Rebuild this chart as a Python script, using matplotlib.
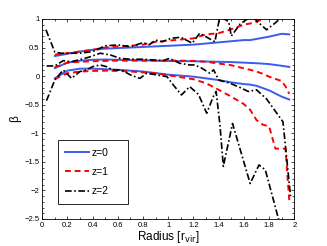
import matplotlib
matplotlib.use("Agg")
import matplotlib.pyplot as plt
from matplotlib.ticker import MultipleLocator

plt.rcParams['font.family'] = ['Liberation Sans', 'DejaVu Sans']

# z=0 (three curves)
r0 = [0.1, 0.2, 0.3, 0.4, 0.5, 0.6, 0.8, 1.0, 1.2, 1.4, 1.5, 1.6, 1.65, 1.7, 1.8, 1.9, 1.96]
b0_hi = [0.35, 0.39, 0.43, 0.46, 0.48, 0.49, 0.51, 0.53, 0.55, 0.59, 0.61, 0.63, 0.63, 0.65, 0.69, 0.74, 0.73]
b0_mid = [0.14, 0.235, 0.27, 0.285, 0.29, 0.285, 0.275, 0.265, 0.26, 0.25, 0.245, 0.235, 0.23, 0.225, 0.21, 0.18, 0.16]
b0_lo = [-0.04, 0.095, 0.13, 0.13, 0.12, 0.11, 0.08, 0.025, -0.01, -0.07, -0.11, -0.14, -0.15, -0.17, -0.25, -0.36, -0.41]

# z=1
r1 = [0.1, 0.2, 0.3, 0.4, 0.5, 0.6, 0.7, 0.8, 0.9, 1.0, 1.1, 1.2, 1.3, 1.4, 1.5, 1.6, 1.65, 1.7, 1.75, 1.8, 1.85, 1.9, 1.93, 1.96]
r1_hi = [0.375, 0.4, 0.43, 0.46, 0.5, 0.52, 0.53, 0.55, 0.6, 0.62, 0.64, 0.66, 0.73, 0.75, 0.82, 0.9, 0.92, 0.95, 1.0, 1.05, 1.1, 1.15, 1.2, 1.25]
r1_mid = [0.155, 0.235, 0.25, 0.26, 0.265, 0.27, 0.27, 0.27, 0.27, 0.27, 0.27, 0.265, 0.25, 0.22, 0.19, 0.135, 0.11, 0.08, 0.04, -0.01, -0.05, -0.085, -0.18, -0.31]
r1_lo = [-0.05, 0.05, 0.08, 0.09, 0.095, 0.09, 0.08, 0.065, 0.05, 0.015, -0.02, -0.055, -0.125, -0.24, -0.36, -0.49, -0.59, -0.77, -0.85, -0.88, -1.27, -1.27, -1.27, -2.17]

# z=2
r2_hi_x = [0.03, 0.1, 0.15, 0.3, 0.4, 0.5, 0.6, 0.7, 0.8, 0.85, 0.9, 0.95, 1.02, 1.1, 1.19, 1.25, 1.37, 1.41, 1.48, 1.5, 1.57, 1.66, 1.78, 1.86, 1.9]
r2_hi = [0.81, 0.42, 0.40, 0.40, 0.43, 0.53, 0.545, 0.515, 0.585, 0.55, 0.63, 0.6, 0.66, 0.68, 0.575, 0.75, 0.6, 1.05, 0.95, 0.7, 0.91, 1.05, 0.81, 0.95, 1.05]
r2_mid_x = [0.035, 0.1, 0.167, 0.23, 0.3, 0.37, 0.46, 0.54, 0.62, 0.7, 0.8, 0.96, 1.01, 1.09, 1.17, 1.21, 1.265, 1.33, 1.36, 1.4, 1.49, 1.58, 1.635, 1.7, 1.78, 1.91, 1.93, 1.97]
r2_mid = [0.177, 0.177, 0.27, 0.25, 0.29, 0.33, 0.40, 0.37, 0.31, 0.295, 0.295, 0.27, 0.31, 0.225, 0.195, 0.195, 0.14, 0.05, 0.11, -0.07, -0.125, -0.21, -0.27, -0.24, -0.4, -0.8, -1.23, -2.1]
r2_lo_x = [0.034, 0.1, 0.167, 0.233, 0.3, 0.35, 0.4, 0.46, 0.51, 0.56, 0.63, 0.7, 0.775, 0.83, 0.91, 0.99, 1.04, 1.105, 1.17, 1.24, 1.305, 1.357, 1.38, 1.41, 1.437, 1.51, 1.65, 1.72, 1.77, 1.87, 1.9]
r2_lo = [-0.43, -0.07, 0.107, -0.04, 0.08, 0.107, 0.165, 0.195, 0.165, 0.107, 0.107, 0.02, -0.04, 0.05, 0.02, -0.01, -0.155, -0.33, -0.185, -0.32, -0.65, -0.36, -0.27, -0.855, -1.58, -0.83, -1.88, -1.555, -1.64, -2.46, -2.7]

xticks = [0, 0.2, 0.4, 0.6, 0.8, 1, 1.2, 1.4, 1.6, 1.8, 2]
xtick_labels = ['0', '0.2', '0.4', '0.6', '0.8', '1', '1.2', '1.4', '1.6', '1.8', '2']
yticks = [-2.5, -2, -1.5, -1, -0.5, 0, 0.5, 1]
ytick_labels = ['\u22122.5', '\u22122', '\u22121.5', '\u22121', '\u22120.5', '0', '0.5', '1']

blue = '#3a5cf0'
dashdot = (0, (4, 1.5, 1, 1.5))

fig = plt.figure(figsize=(3.27, 2.46), dpi=100)
ax = fig.add_axes([0.129, 0.110, 0.771, 0.813])

ax.plot(r0, b0_hi, color=blue, lw=1.4, label='z=0')
ax.plot(r0, b0_mid, color=blue, lw=1.4)
ax.plot(r0, b0_lo, color=blue, lw=1.4)

ax.plot(r1, r1_hi, color='red', lw=1.4, ls=(0, (3, 2)), label='z=1')
ax.plot(r1, r1_mid, color='red', lw=1.4, ls=(0, (3, 2)))
ax.plot(r1, r1_lo, color='red', lw=1.4, ls=(0, (3, 2)))

ax.plot(r2_hi_x, r2_hi, color='black', lw=1.2, ls=dashdot, label='z=2')
ax.plot(r2_mid_x, r2_mid, color='black', lw=1.2, ls=dashdot)
ax.plot(r2_lo_x, r2_lo, color='black', lw=1.2, ls=dashdot)

ax.set_xticks(xticks, xtick_labels)
ax.set_yticks(yticks, ytick_labels)
ax.xaxis.set_minor_locator(MultipleLocator(0.1))
ax.yaxis.set_minor_locator(MultipleLocator(0.1))
ax.set_xlim(0, 2)
ax.set_ylim(-2.5, 1)
ax.tick_params(which='both', direction='in', top=True, right=True, labelsize=5.5, pad=2)
ax.tick_params(which='major', length=2.5, width=0.5)
ax.tick_params(which='minor', length=1.5, width=0.5)
for s in ax.spines.values():
    s.set_linewidth(0.6)

ax.set_xlabel('Radius [r$_{\\rm vir}$]', fontsize=8.5, labelpad=0)
ax.set_ylabel('\u03b2', fontsize=8.5, labelpad=2)

leg = ax.legend(loc='lower left', bbox_to_anchor=(0.042, 0.05, 0.32, 0.28), mode='expand',
                fontsize=7.5, fancybox=False, edgecolor='black', framealpha=1,
                handlelength=2.3, borderpad=0.7, labelspacing=0.9, handletextpad=0.2)
leg.get_frame().set_linewidth(0.6)

fig.savefig('out.png', dpi=100)
